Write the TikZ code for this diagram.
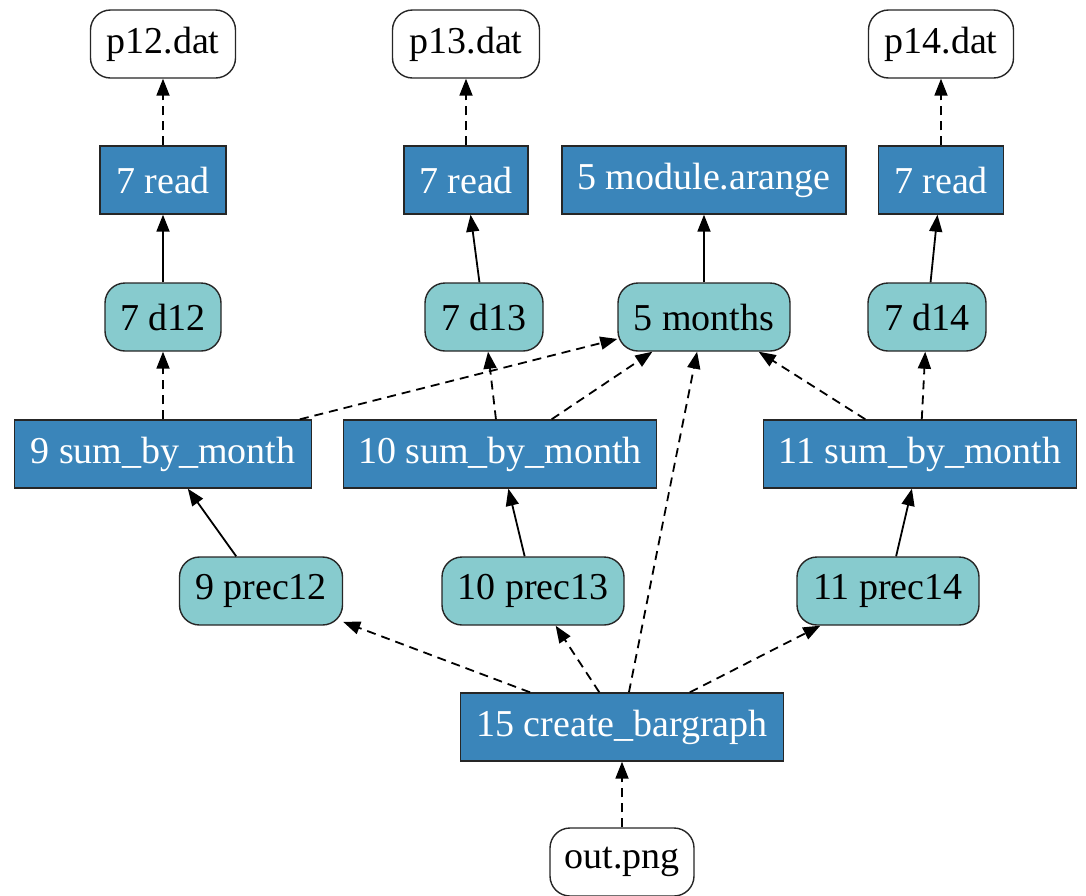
\documentclass[tikz,border=0pt]{standalone}
\usepackage{fontspec}
\setmainfont{Liberation Serif}
\usetikzlibrary{arrows.meta}
\definecolor{funcblue}{HTML}{3A85BA}
\definecolor{varteal}{HTML}{87CBCE}
\begin{document}
\begin{tikzpicture}[x=1pt,y=-1pt,
  base/.style={draw=black!85, line width=1.4pt, minimum height=68pt, inner sep=0pt,
    font=\fontsize{38}{40}\selectfont, anchor=center},
  file/.style={base, fill=white, rounded corners=20pt},
  func/.style={base, fill=funcblue, text=white},
  var/.style={base, fill=varteal, rounded corners=20pt},
  link/.style={line width=1.8pt, -{Triangle[length=17pt,width=13pt]}},
  dep/.style={link, dash pattern=on 9pt off 6pt}]
\useasboundingbox (0,0) rectangle (1086,895);

% data files
\node[file, minimum width=145pt] (p12) at (163,44) {p12.dat};
\node[file, minimum width=147pt] (p13) at (466,44) {p13.dat};
\node[file, minimum width=145pt] (p14) at (941,44) {p14.dat};

% readers
\node[func, minimum width=126pt] (readA) at (163,180) {7 read};
\node[func, minimum width=124pt] (readB) at (466,180) {7 read};
\node[func, minimum width=284pt] (arange) at (704,180) {5 module.arange};
\node[func, minimum width=125pt] (readC) at (941,180) {7 read};

% loaded variables
\node[var, minimum width=116pt] (d12) at (163,317) {7 d12};
\node[var, minimum width=118pt] (d13) at (484,317) {7 d13};
\node[var, minimum width=172pt] (months) at (704,317) {5 months};
\node[var, minimum width=118pt] (d14) at (927,317) {7 d14};

% monthly sums
\node[func, minimum width=297pt] (sumA) at (163,454) {9 sum\_by\_month};
\node[func, minimum width=313pt] (sumB) at (500,454) {10 sum\_by\_month};
\node[func, minimum width=313pt] (sumC) at (920,454) {11 sum\_by\_month};

% precipitation results
\node[var, minimum width=163pt] (prA) at (261,591) {9 prec12};
\node[var, minimum width=182pt] (prB) at (533,591) {10 prec13};
\node[var, minimum width=182pt] (prC) at (888,591) {11 prec14};

% plot
\node[func, minimum width=323pt] (bar) at (622,727) {15 create\_bargraph};
\node[file, minimum width=144pt] (out) at (622,862) {out.png};

% edges
\draw[dep] (readA) -- (p12);
\draw[dep] (readB) -- (p13);
\draw[dep] (readC) -- (p14);
\draw[link] (d12) -- (readA);
\draw[link] (d13) -- (readB);
\draw[link] (d14) -- (readC);
\draw[link] (months) -- (arange);
\draw[dep] (sumA) -- (d12);
\draw[dep] (sumA) -- (months);
\draw[dep] (sumB) -- (d13);
\draw[dep] (sumB) -- (months);
\draw[dep] (sumC) -- (d14);
\draw[dep] (sumC) -- (months);
\draw[link] (prA) -- (sumA);
\draw[link] (prB) -- (sumB);
\draw[link] (prC) -- (sumC);
\draw[dep] (bar) -- (prA);
\draw[dep] (bar) -- (prB);
\draw[dep] (bar) -- (months);
\draw[dep] (bar) -- (prC);
\draw[dep] (out) -- (bar);
\end{tikzpicture}
\end{document}
